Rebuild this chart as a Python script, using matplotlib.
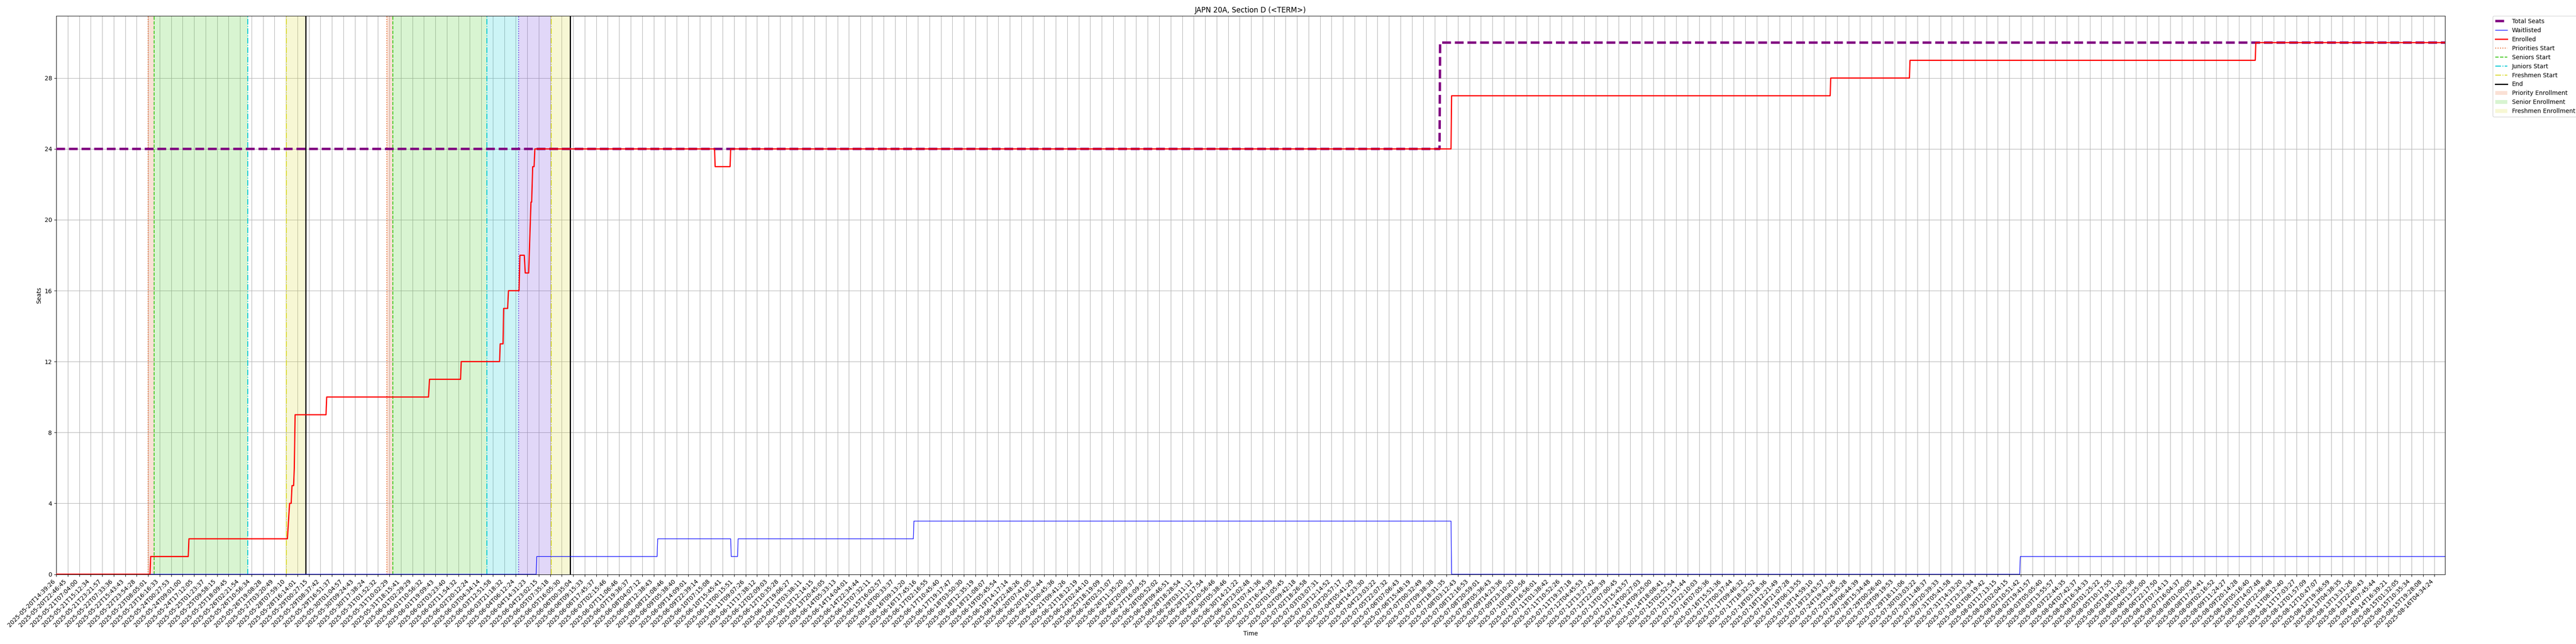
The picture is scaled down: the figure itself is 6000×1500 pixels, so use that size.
import matplotlib
matplotlib.use("Agg")
import matplotlib.pyplot as plt
from matplotlib.lines import Line2D
from matplotlib.patches import Patch

# ---------------- data ----------------
tick_labels = [
    "2025-05-20T14:39:26", "2025-05-20T22:46:45", "2025-05-21T07:04:00", "2025-05-21T15:12:34",
    "2025-05-21T23:21:57", "2025-05-22T07:33:36", "2025-05-22T15:43:43", "2025-05-22T23:54:28",
    "2025-05-23T08:05:01", "2025-05-23T16:16:33", "2025-05-24T00:27:53", "2025-05-24T09:01:00",
    "2025-05-24T17:12:05", "2025-05-25T01:23:37", "2025-05-25T09:58:15", "2025-05-25T18:09:45",
    "2025-05-26T02:21:54", "2025-05-26T10:56:34", "2025-05-26T19:08:28", "2025-05-27T03:20:49",
    "2025-05-28T07:59:10", "2025-05-28T16:14:01", "2025-05-29T00:27:15", "2025-05-29T08:37:42",
    "2025-05-29T16:51:37", "2025-05-30T01:04:57", "2025-05-30T09:24:43", "2025-05-30T17:38:24",
    "2025-05-31T01:52:32", "2025-05-31T10:02:29", "2025-05-31T18:15:41", "2025-06-01T02:29:29",
    "2025-06-01T10:56:32", "2025-06-01T19:09:43", "2025-06-02T03:23:40", "2025-06-02T11:54:32",
    "2025-06-02T20:12:24", "2025-06-03T04:34:14", "2025-06-03T12:51:58", "2025-06-03T21:18:32",
    "2025-06-04T06:12:24", "2025-06-04T14:31:23", "2025-06-04T23:02:15", "2025-06-05T07:35:18",
    "2025-06-05T16:05:30", "2025-06-06T00:35:04", "2025-06-06T09:15:33", "2025-06-06T17:45:37",
    "2025-06-07T02:15:46", "2025-06-07T11:06:46", "2025-06-07T19:36:37", "2025-06-08T04:07:12",
    "2025-06-08T12:38:43", "2025-06-08T21:08:46", "2025-06-09T05:38:40", "2025-06-09T14:09:01",
    "2025-06-09T22:39:14", "2025-06-10T07:15:08", "2025-06-10T15:45:41", "2025-06-11T00:15:51",
    "2025-06-11T09:07:26", "2025-06-11T17:38:12", "2025-06-12T02:09:03", "2025-06-12T10:35:28",
    "2025-06-12T19:06:27", "2025-06-13T03:38:11", "2025-06-13T12:14:15", "2025-06-13T20:45:05",
    "2025-06-14T05:33:13", "2025-06-14T14:04:01", "2025-06-14T22:34:44", "2025-06-15T07:32:11",
    "2025-06-15T16:02:57", "2025-06-16T00:33:37", "2025-06-16T09:13:20", "2025-06-16T17:45:16",
    "2025-06-17T02:16:55", "2025-06-17T10:45:40", "2025-06-17T19:17:47", "2025-06-18T03:50:30",
    "2025-06-18T12:35:19", "2025-06-18T21:08:07", "2025-06-19T05:45:54", "2025-06-19T14:17:14",
    "2025-06-19T22:48:26", "2025-06-20T07:41:05", "2025-06-20T16:12:44", "2025-06-21T00:45:36",
    "2025-06-21T09:41:26", "2025-06-21T18:12:19", "2025-06-22T02:44:10", "2025-06-25T18:19:09",
    "2025-06-26T02:51:07", "2025-06-26T11:35:20", "2025-06-26T20:09:37", "2025-06-27T16:09:55",
    "2025-06-28T00:52:02", "2025-06-28T09:46:51", "2025-06-28T18:28:54", "2025-06-29T03:11:12",
    "2025-06-29T12:17:54", "2025-06-29T20:56:46", "2025-06-30T05:38:46", "2025-06-30T14:21:22",
    "2025-06-30T23:02:48", "2025-07-01T07:41:36", "2025-07-01T16:24:39", "2025-07-02T01:05:45",
    "2025-07-02T09:42:18", "2025-07-02T18:26:58", "2025-07-03T03:07:31", "2025-07-03T12:14:52",
    "2025-07-03T20:57:17", "2025-07-04T05:41:29", "2025-07-04T14:23:30", "2025-07-04T23:03:22",
    "2025-07-05T22:07:32", "2025-07-06T07:06:43", "2025-07-06T15:48:19", "2025-07-07T00:32:49",
    "2025-07-07T09:38:38", "2025-07-07T18:31:35", "2025-07-08T03:12:43", "2025-07-08T12:16:53",
    "2025-07-08T20:59:01", "2025-07-09T05:36:43", "2025-07-09T14:23:36", "2025-07-09T23:10:20",
    "2025-07-10T08:10:56", "2025-07-10T16:56:01", "2025-07-11T01:38:42", "2025-07-11T10:52:26",
    "2025-07-11T19:37:18", "2025-07-12T04:45:53", "2025-07-12T13:27:42", "2025-07-12T22:09:39",
    "2025-07-13T07:00:45", "2025-07-13T15:43:57", "2025-07-14T00:27:03", "2025-07-14T09:25:00",
    "2025-07-14T18:08:41", "2025-07-15T02:52:54", "2025-07-15T11:51:44", "2025-07-15T22:10:03",
    "2025-07-16T07:05:36", "2025-07-16T15:51:36", "2025-07-17T00:37:44", "2025-07-17T09:46:32",
    "2025-07-17T18:32:52", "2025-07-18T03:18:36", "2025-07-18T12:21:49", "2025-07-18T21:07:28",
    "2025-07-19T06:13:55", "2025-07-19T14:59:10", "2025-07-19T23:43:57", "2025-07-24T19:43:26",
    "2025-07-25T04:35:28", "2025-07-28T06:44:39", "2025-07-28T15:34:48", "2025-07-29T00:26:40",
    "2025-07-29T09:19:53", "2025-07-29T18:11:06", "2025-07-30T03:03:22", "2025-07-30T11:48:37",
    "2025-07-30T20:39:33", "2025-07-31T05:41:58", "2025-07-31T14:33:20", "2025-07-31T23:23:34",
    "2025-08-01T08:19:42", "2025-08-01T17:13:15", "2025-08-02T02:04:15", "2025-08-02T10:51:42",
    "2025-08-02T19:41:57", "2025-08-03T05:05:40", "2025-08-03T13:55:57", "2025-08-03T22:44:35",
    "2025-08-04T07:42:37", "2025-08-04T16:34:33", "2025-08-05T01:25:22", "2025-08-05T10:17:55",
    "2025-08-05T19:11:20", "2025-08-06T04:05:36", "2025-08-06T13:25:00", "2025-08-06T22:17:50",
    "2025-08-07T07:14:13", "2025-08-07T16:04:37", "2025-08-08T01:00:05", "2025-08-08T17:24:41",
    "2025-08-09T02:16:52", "2025-08-09T11:24:27", "2025-08-09T20:14:28", "2025-08-10T05:16:40",
    "2025-08-10T14:07:48", "2025-08-10T22:58:48", "2025-08-11T08:12:40", "2025-08-11T17:03:27",
    "2025-08-12T01:57:09", "2025-08-12T10:47:07", "2025-08-12T19:36:59", "2025-08-13T04:38:35",
    "2025-08-13T13:31:26", "2025-08-13T22:40:43", "2025-08-14T07:45:44", "2025-08-14T16:39:21",
    "2025-08-15T01:32:05", "2025-08-15T10:35:34", "2025-08-15T19:28:08", "2025-08-16T04:34:24",
]

# positions are in tick units (0 = first tick label, 1 = next tick label, ...)
x_end = 207.92

total_x = [0, 120.40, 120.45, x_end]
total_y = [24, 24, 30, 30]

wait_x = [0, 41.77, 41.82, 52.30, 52.35, 58.70, 58.75, 59.30, 59.35, 74.60, 74.65,
          121.40, 121.45, 170.90, 170.95, x_end]
wait_y = [0, 0, 1, 1, 2, 2, 1, 1, 2, 2, 3, 3, 0, 0, 1, 1]

enr_x = [0, 8.16, 8.22, 11.49, 11.55, 20.12, 20.31, 20.45, 20.52, 20.66, 20.72, 20.79,
         23.48, 23.54, 32.40, 32.49, 35.19, 35.25, 38.59, 38.64, 38.89, 38.94, 39.29, 39.36,
         40.28, 40.36, 40.74, 40.82, 41.12, 41.22, 41.32, 41.38, 41.47, 41.59, 41.66,
         57.30, 57.35, 58.65, 58.70, 121.40, 121.45, 154.40, 154.45, 161.30, 161.35,
         191.40, 191.45, x_end]
enr_y = [0, 0, 1, 1, 2, 2, 4, 4, 5, 5, 6, 9,
         9, 10, 10, 11, 11, 12, 12, 13, 13, 15, 15, 16,
         16, 18, 18, 17, 17, 19, 21, 21, 23, 23, 24,
         24, 23, 23, 24, 24, 27, 27, 28, 28, 29,
         29, 30, 30]

priorities_start = [7.98, 28.76]
seniors_start = [8.51, 29.30]
juniors_start = [16.67, 37.48]
sophomores_start = [40.25]
freshmen_start = [20.04, 43.07]
end_marks = [21.70, 44.73]

priority_spans = [(7.98, 8.51), (28.76, 29.30)]
senior_spans = [(8.51, 16.67), (29.30, 37.48)]
junior_spans = [(37.48, 40.25)]
sophomore_spans = [(40.25, 43.07)]
freshmen_spans = [(20.04, 21.70), (43.07, 44.73)]

y_ticks = [0, 4, 8, 12, 16, 20, 24, 28]

# ---------------- style ----------------
c_pri = "#E8692F"
c_sen = "#3FC81C"
c_jun = "#00C8D2"
c_sop = "#6B3BE0"
c_fre = "#D8D82C"

fig = plt.figure(figsize=(60, 15), dpi=100)
ax = fig.add_axes([131 / 6000, 1 - 1337.5 / 1500, (5695 - 131) / 6000, (1337.5 - 37.3) / 1500])

for a, b in priority_spans:
    ax.axvspan(a, b, color=c_pri, alpha=0.2, lw=0)
for a, b in senior_spans:
    ax.axvspan(a, b, color=c_sen, alpha=0.2, lw=0)
for a, b in junior_spans:
    ax.axvspan(a, b, color=c_jun, alpha=0.2, lw=0)
for a, b in sophomore_spans:
    ax.axvspan(a, b, color=c_sop, alpha=0.2, lw=0)
for a, b in freshmen_spans:
    ax.axvspan(a, b, color=c_fre, alpha=0.2, lw=0)

ax.plot(total_x, total_y, color="purple", lw=4, ls="--", zorder=3)
ax.plot(wait_x, wait_y, color="blue", lw=1, zorder=3)
ax.plot(enr_x, enr_y, color="red", lw=2, zorder=3)

for x in priorities_start:
    ax.axvline(x, color=c_pri, ls=":", lw=1.5)
for x in seniors_start:
    ax.axvline(x, color=c_sen, ls="--", lw=1.5)
for x in juniors_start:
    ax.axvline(x, color=c_jun, ls="-.", lw=1.5)
for x in sophomores_start:
    ax.axvline(x, color=c_sop, ls=":", lw=1.5)
for x in freshmen_start:
    ax.axvline(x, color=c_fre, ls="-.", lw=1.5)
for x in end_marks:
    ax.axvline(x, color="black", ls="-", lw=2)

ax.set_xlim(0, x_end)
ax.set_ylim(0, 31.5)
ax.set_yticks(y_ticks)
ax.set_xticks(range(len(tick_labels)))
ax.set_xticklabels(tick_labels, rotation=45, ha="right", fontsize=10)
ax.grid(True, color="#b0b0b0", lw=0.8)
ax.set_axisbelow(True)
ax.set_title("JAPN 20A, Section D (<TERM>)", fontsize=12)
ax.set_xlabel("Time")
ax.set_ylabel("Seats")

handles = [
    Line2D([], [], color="purple", lw=4, ls="--", label="Total Seats"),
    Line2D([], [], color="blue", lw=1, label="Waitlisted"),
    Line2D([], [], color="red", lw=2, label="Enrolled"),
    Line2D([], [], color=c_pri, lw=1.5, ls=":", label="Priorities Start"),
    Line2D([], [], color=c_sen, lw=1.5, ls="--", label="Seniors Start"),
    Line2D([], [], color=c_jun, lw=1.5, ls="-.", label="Juniors Start"),
    Line2D([], [], color=c_fre, lw=1.5, ls="-.", label="Freshmen Start"),
    Line2D([], [], color="black", lw=2, label="End"),
    Patch(facecolor=c_pri, alpha=0.2, label="Priority Enrollment"),
    Patch(facecolor=c_sen, alpha=0.2, label="Senior Enrollment"),
    Patch(facecolor=c_fre, alpha=0.2, label="Freshmen Enrollment"),
]
ax.legend(handles=handles, loc="upper left", bbox_to_anchor=(1.02, 1), borderaxespad=0)

fig.savefig("out.png", dpi=100)
